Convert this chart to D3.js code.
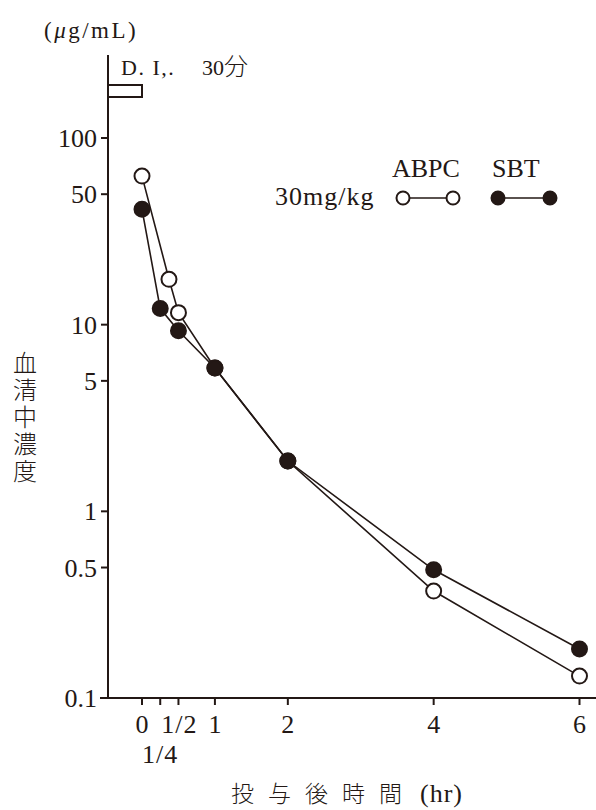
<!DOCTYPE html>
<html>
<head>
<meta charset="utf-8">
<script src="https://cdn.jsdelivr.net/npm/d3@7"></script>
<style>
  html, body { margin: 0; padding: 0; background: #fff; }
  svg { display: block; }
  text { fill: #231815; }
</style>
</head>
<body>
<svg id="chart" width="596" height="810"></svg>
<script>
// Serum concentration after 30 min infusion, 30mg/kg
const seriesNames = ["ABPC", "SBT"];
const abpcTime = [0, 0.37, 0.5, 1, 2, 4, 6];
const abpcConc = [62.5, 17.5, 11.6, 5.86, 1.86, 0.374, 0.131];
const sbtTime = [0, 0.25, 0.5, 1, 2, 4, 6];
const sbtConc = [41.5, 12.2, 9.27, 5.86, 1.86, 0.486, 0.183];

const yTicks = [100, 50, 10, 5, 1, 0.5, 0.1];
const yTickLabels = ["100", "50", "10", "5", "1", "0.5", "0.1"];
const xTicks = [0, 0.25, 0.5, 1, 2, 4, 6];
const xTickLabels = ["0", "1/4", "1/2", "1", "2", "4", "6"];
const infusion = [-0.5, 0];

const ink = "#231815";
const serif = "'Liberation Serif', 'DejaVu Serif', serif";
const cjk = "'Noto Sans CJK JP', sans-serif";

const svg = d3.select("#chart");

const axisX = 108, axisBottom = 698, axisTop = 55;
const x = d3.scaleLinear().domain([0, 6]).range([142, 579.5]);
const y = d3.scaleLog().domain([0.1, 100]).range([698, 138]);

// axes lines
svg.append("line").attr("x1", axisX).attr("x2", axisX).attr("y1", axisTop).attr("y2", axisBottom)
  .attr("stroke", ink).attr("stroke-width", 2);
svg.append("line").attr("x1", 100).attr("x2", 596).attr("y1", axisBottom).attr("y2", axisBottom)
  .attr("stroke", ink).attr("stroke-width", 2);

// y ticks
const yg = svg.append("g");
yTicks.forEach((v, i) => {
  yg.append("line").attr("x1", axisX - 7).attr("x2", axisX).attr("y1", y(v)).attr("y2", y(v))
    .attr("stroke", ink).attr("stroke-width", 2);
  yg.append("text").attr("x", 97).attr("y", y(v) + 9)
    .attr("text-anchor", "end").attr("font-family", serif).attr("font-size", 26)
    .text(yTickLabels[i]);
});

// x ticks
const xg = svg.append("g");
xTicks.forEach((t, i) => {
  xg.append("line").attr("x1", x(t)).attr("x2", x(t)).attr("y1", axisBottom).attr("y2", axisBottom + 7)
    .attr("stroke", ink).attr("stroke-width", 2);
  const second = t === 0.25;
  xg.append("text").attr("x", x(t) + (t === 0.5 ? 1 : 0)).attr("y", second ? 763 : 733)
    .attr("text-anchor", "middle").attr("font-family", serif).attr("font-size", 26)
    .attr("letter-spacing", t === 0.5 || second ? 1 : 0)
    .text(xTickLabels[i]);
});

// infusion bar
svg.append("rect")
  .attr("x", Math.max(x(infusion[0]), axisX)).attr("y", 85)
  .attr("width", x(infusion[1]) - Math.max(x(infusion[0]), axisX)).attr("height", 12)
  .attr("fill", "#fff").attr("stroke", ink).attr("stroke-width", 2);
const di = svg.append("text").attr("x", 121).attr("y", 75).attr("font-family", serif).attr("font-size", 22);
di.append("tspan").attr("letter-spacing", 1.5).text("D. I,.");
di.append("tspan").attr("x", 202).text("30");
di.append("tspan").attr("font-family", cjk).attr("font-weight", 300).attr("font-size", 24).text("分");

// unit label
const unit = svg.append("text").attr("x", 44).attr("y", 38).attr("font-family", serif).attr("font-size", 23)
  .attr("letter-spacing", 2.5);
unit.append("tspan").text("(");
unit.append("tspan").attr("font-style", "italic").text("μ");
unit.append("tspan").text("g/mL)");

// y axis title, set vertically
svg.append("text").attr("x", 25).attr("y", 351)
  .attr("font-family", cjk).attr("font-weight", 300).attr("font-size", 24)
  .style("writing-mode", "vertical-rl").attr("letter-spacing", 3)
  .text("血清中濃度");

// x axis title
const xt = svg.append("text").attr("x", 231).attr("y", 802).attr("font-family", cjk)
  .attr("font-weight", 300).attr("font-size", 23);
xt.append("tspan").attr("letter-spacing", 14).text("投与後時間");
xt.append("tspan").attr("x", 420).attr("font-family", serif).attr("font-weight", 400)
  .attr("font-size", 26).attr("letter-spacing", 1).text("(hr)");

// series
const series = [
  { name: seriesNames[0], t: abpcTime, c: abpcConc, fill: "#fff" },
  { name: seriesNames[1], t: sbtTime, c: sbtConc, fill: ink }
];
const line = d3.line().x(d => x(d[0])).y(d => y(d[1]));
series.forEach(s => {
  const pts = s.t.map((t, i) => [t, s.c[i]]);
  svg.append("path").attr("d", line(pts)).attr("fill", "none").attr("stroke", ink).attr("stroke-width", 1.6);
});
series.forEach(s => {
  const pts = s.t.map((t, i) => [t, s.c[i]]);
  svg.append("g").selectAll("circle").data(pts).join("circle")
    .attr("cx", d => x(d[0])).attr("cy", d => y(d[1])).attr("r", 7.5)
    .attr("fill", s.fill).attr("stroke", ink).attr("stroke-width", 2);
});

// legend
svg.append("text").attr("x", 275).attr("y", 205).attr("font-family", serif).attr("font-size", 26)
  .attr("letter-spacing", 1).text("30mg/kg");
const legendPos = [{ x1: 403, x2: 453, tx: 392 }, { x1: 498, x2: 550, tx: 492 }];
series.forEach((s, i) => {
  const p = legendPos[i];
  svg.append("text").attr("x", p.tx).attr("y", 177).attr("font-family", serif).attr("font-size", 26)
    .text(s.name);
  svg.append("line").attr("x1", p.x1).attr("x2", p.x2).attr("y1", 198).attr("y2", 198)
    .attr("stroke", ink).attr("stroke-width", 1.6);
  [p.x1, p.x2].forEach(cx => {
    svg.append("circle").attr("cx", cx).attr("cy", 198).attr("r", 6.5)
      .attr("fill", s.fill).attr("stroke", ink).attr("stroke-width", 2);
  });
});
</script>
</body>
</html>
